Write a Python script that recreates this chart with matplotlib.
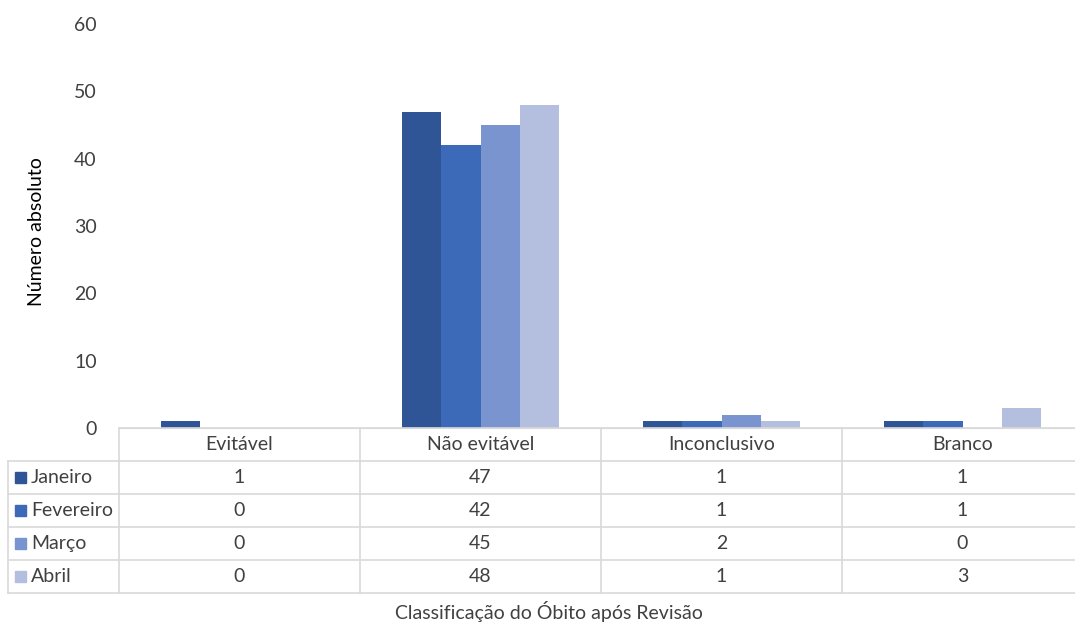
import numpy as np
import matplotlib.pyplot as plt
from matplotlib.transforms import blended_transform_factory

categorias = ["Evitável", "Não evitável", "Inconclusivo", "Branco"]
meses = ["Janeiro", "Fevereiro", "Março", "Abril"]
janeiro = [1, 47, 1, 1]
fevereiro = [0, 42, 1, 1]
marco = [0, 45, 2, 0]
abril = [0, 48, 1, 3]
valores = [janeiro, fevereiro, marco, abril]
cores = ["#2F5597", "#3D6AB8", "#7A94D0", "#B4BFE0"]

W, H = 1075, 623
plt.rcParams['font.family'] = ['Lato', 'DejaVu Sans']
texto = "#404040"
grade = "#D9D9D9"
fs = 14

fig = plt.figure(figsize=(W / 100, H / 100), dpi=100)

# área do gráfico (em pixels)
x0, x1 = 119, 1083
y_top, y_bot = 24, 428
ax = fig.add_axes([x0 / W, 1 - y_bot / H, (x1 - x0) / W, (y_bot - y_top) / H])

x = np.arange(len(categorias))
largura = 0.162
for i, (mes, v) in enumerate(zip(meses, valores)):
    ax.bar(x + (i - 1.5) * largura, v, largura, color=cores[i], label=mes)

ax.set_xlim(-0.5, len(categorias) - 0.5)
ax.set_ylim(0, 60)
ax.set_yticks(range(0, 61, 10))
ax.tick_params(axis='y', length=0, labelsize=fs, labelcolor=texto, pad=16)
ax.set_xticks([])
for s in ["top", "right", "left"]:
    ax.spines[s].set_visible(False)
ax.spines["bottom"].set_color(grade)

def fy(py):
    return 1 - py / H

fig.text(37 / W, fy(232), "Número absoluto", rotation=90, ha="center", va="center",
         fontsize=fs, color="black")

# tabela de dados
tr = blended_transform_factory(ax.transData, fig.transFigure)

linhas = [428, 461, 494, 527, 560, 593]
lw = 1.2
# linhas horizontais
for k, py in enumerate(linhas):
    xa = x0 if k == 0 else 8
    fig.add_artist(plt.Line2D([xa / W, x1 / W], [fy(py), fy(py)], color=grade, lw=lw))
# linhas verticais
fig.add_artist(plt.Line2D([8 / W, 8 / W], [fy(linhas[1]), fy(linhas[-1])], color=grade, lw=lw))
for b in np.arange(-0.5, len(categorias), 1.0):
    fig.add_artist(plt.Line2D([b, b], [fy(linhas[0]), fy(linhas[-1])], color=grade, lw=lw, transform=tr))

# cabeçalho
for j, c in enumerate(categorias):
    fig.text(j, fy((linhas[0] + linhas[1]) / 2), c, transform=tr, ha="center", va="center",
             fontsize=fs, color=texto)

# linhas com valores e legenda
for i, mes in enumerate(meses):
    cy = fy((linhas[i + 1] + linhas[i + 2]) / 2)
    fig.add_artist(plt.Rectangle((15 / W, cy - 5.5 / H), 11 / W, 11 / H, color=cores[i]))
    fig.text(31 / W, cy, mes, ha="left", va="center", fontsize=fs, color=texto)
    for j in range(len(categorias)):
        fig.text(j, cy, str(valores[i][j]), transform=tr, ha="center", va="center",
                 fontsize=fs, color=texto)

fig.text(549 / W, fy(612), "Classificação do Óbito após Revisão",
         ha="center", va="center", fontsize=fs, color=texto)

fig.savefig("out.png", dpi=100)
